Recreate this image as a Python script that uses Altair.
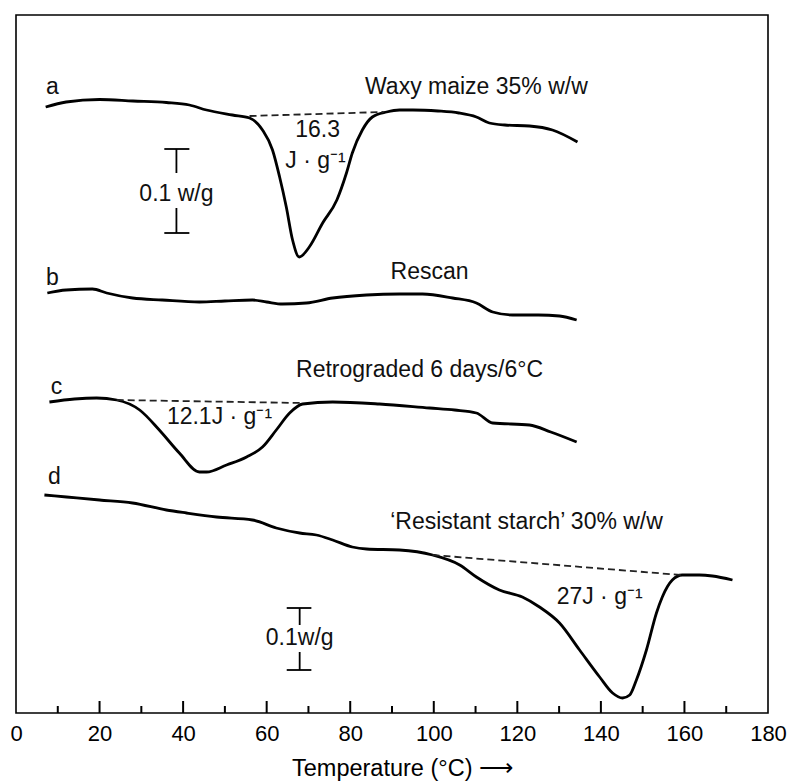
import altair as alt
import pandas as pd

# ---- curve readings (temperature in °C, signal in arbitrary heat-flow units, offset per trace)
temp_a = [7.1, 12, 20, 28, 36, 41.5, 45.6, 51.8, 55.9, 59, 61.4, 63.1, 64.7, 66.2, 67.8, 70.2, 73.4,
          76.8, 79.1, 80.5, 82.9, 85.3, 88.7, 91.8, 95, 101, 106, 110.2, 113.3, 117, 122.9, 128.4, 134.4]
sig_a = [606, 611, 613.5, 612, 610.5, 608, 603, 598, 595, 583, 563, 536, 506, 473, 456, 466, 490,
         513, 540, 560, 583, 596, 601, 603, 603, 602, 600, 596, 590, 588, 587, 583, 571]

temp_b = [7.5, 12, 18.3, 21.7, 27.9, 35, 43.9, 50, 56.6, 60, 63.8, 69.5, 75.8, 83.9, 91.8, 97.3, 104.5,
          110.2, 114.1, 118.9, 125, 130.1, 134.2]
sig_b = [420, 423, 424, 420, 415, 413, 411, 412, 413, 411, 409, 410, 415, 418, 419, 419, 415,
         410, 401, 398, 398, 397, 393]

temp_c = [8, 14, 19.3, 24.1, 29.6, 34.3, 39.1, 43.9, 45.6, 50.4, 55.2, 59, 62.3, 65.5, 68.6, 75.8, 87,
          99, 105, 110.2, 114.1, 122.9, 128, 134.2]
sig_c = [311, 314, 315, 313, 303, 283, 260, 241, 241, 248, 256, 266, 283, 300, 309, 311, 309,
         305, 303, 300, 290, 288, 281, 271]

temp_d = [6.8, 12.1, 20, 27.9, 36, 40.8, 48, 56.6, 62.3, 67.9, 71.9, 75.8, 80.5, 83.9, 91.8, 99.7, 106.2,
          110.2, 115.7, 121.2, 125.3, 130.1, 134.9, 139.7, 142.8, 145.2, 146.9, 148.5, 150.9, 153.3, 154.7,
          157.1, 159.5, 163.6, 166.7, 171.5]
sig_d = [218, 216, 213, 210, 203, 200, 196, 193, 185, 180, 178, 173, 166, 164, 163, 158, 148,
         136, 123, 116, 106, 90, 63, 36, 20, 15, 18, 33, 63, 100, 116,
         133, 138, 138, 137, 133]

# ---- dashed baselines (start, end)
base_names = ["a", "a", "c", "c", "d", "d"]
base_temp = [55.9, 88, 24.1, 68.6, 99.7, 159.2]
base_sig = [597, 601, 313, 310, 158, 138]

# ---- scale bars (0.1 W/g)
bar_x = [38.4, 67.9]
bar_cap_left = [35.5, 64.8]
bar_cap_right = [41.5, 70.7]
bar_top = [564, 105]
bar_gap_top = [540, 88]
bar_gap_bottom = [505, 61]
bar_bottom = [480, 43]

# ---- annotations
ann_text = ["a", "b", "c", "d", "Waxy maize 35% w/w", "16.3", "J · g⁻¹", "0.1 w/g", "Rescan",
            "Retrograded 6 days/6°C", "12.1J · g⁻¹", "‘Resistant starch’ 30% w/w", "27J · g⁻¹", "0.1w/g"]
ann_temp = [8.7, 8.7, 9.7, 9.2, 110.2, 72.2, 71.7, 38.4, 99.0, 96.6, 48.7, 122.2, 139.7, 67.9]
ann_sig = [626, 435, 326, 236, 626, 583, 552, 519, 441, 343, 296, 191, 116, 75]

major_ticks = [20, 40, 60, 80, 100, 120, 140, 160]
minor_ticks = [10, 30, 50, 70, 90, 110, 130, 150, 170]
tick_labels = [0, 20, 40, 60, 80, 100, 120, 140, 160, 180]

FONT = "Liberation Sans"
W, H = 752, 698

curves = pd.concat([
    pd.DataFrame({"T": temp_a, "S": sig_a, "trace": "a"}),
    pd.DataFrame({"T": temp_b, "S": sig_b, "trace": "b"}),
    pd.DataFrame({"T": temp_c, "S": sig_c, "trace": "c"}),
    pd.DataFrame({"T": temp_d, "S": sig_d, "trace": "d"}),
], ignore_index=True)
curves["order"] = range(len(curves))

baselines = pd.DataFrame({"T": base_temp, "S": base_sig, "trace": base_names})
bars = pd.DataFrame({"x": bar_x, "xl": bar_cap_left, "xr": bar_cap_right, "top": bar_top,
                     "gt": bar_gap_top, "gb": bar_gap_bottom, "bottom": bar_bottom})
ann = pd.DataFrame({"T": ann_temp, "S": ann_sig, "text": ann_text})
majors = pd.DataFrame({"T": major_ticks})
minors = pd.DataFrame({"T": minor_ticks})

xscale = alt.Scale(domain=[0, 180], nice=False, zero=False)
yscale = alt.Scale(domain=[0, H], nice=False, zero=False)

xaxis = alt.Axis(values=tick_labels, tickSize=0, domain=False, grid=False, labelFontSize=22,
                 labelFont=FONT, labelColor="black", labelPadding=10, labelFlush=False,
                 title="Temperature (°C)  ⟶", titleFont=FONT, titleFontSize=23.5,
                 titleFontWeight="normal", titleColor="black", titlePadding=12,
                 titleX=386, titleAlign="center")

lines = alt.Chart(curves).mark_line(color="black", strokeWidth=2.8, interpolate="monotone").encode(
    x=alt.X("T:Q", scale=xscale, axis=xaxis),
    y=alt.Y("S:Q", scale=yscale, axis=None),
    detail="trace:N",
    order="order:Q",
)

dashed = alt.Chart(baselines).mark_line(color="#222222", strokeWidth=1.8, strokeDash=[7, 4]).encode(
    x=alt.X("T:Q", scale=xscale), y=alt.Y("S:Q", scale=yscale), detail="trace:N"
)

bar_style = dict(color="black", strokeWidth=1.8)
cap_top = alt.Chart(bars).mark_rule(**bar_style).encode(
    x=alt.X("xl:Q", scale=xscale), x2="xr:Q", y=alt.Y("top:Q", scale=yscale))
cap_bot = alt.Chart(bars).mark_rule(**bar_style).encode(
    x=alt.X("xl:Q", scale=xscale), x2="xr:Q", y=alt.Y("bottom:Q", scale=yscale))
stem_top = alt.Chart(bars).mark_rule(**bar_style).encode(
    x=alt.X("x:Q", scale=xscale), y=alt.Y("top:Q", scale=yscale), y2="gt:Q")
stem_bot = alt.Chart(bars).mark_rule(**bar_style).encode(
    x=alt.X("x:Q", scale=xscale), y=alt.Y("gb:Q", scale=yscale), y2="bottom:Q")

texts = alt.Chart(ann).mark_text(font=FONT, fontSize=23, color="#111111", align="center",
                                 baseline="middle").encode(
    x=alt.X("T:Q", scale=xscale), y=alt.Y("S:Q", scale=yscale), text="text:N")

major_rules = alt.Chart(majors).mark_rule(color="black", strokeWidth=2).encode(
    x=alt.X("T:Q", scale=xscale), y=alt.value(H), y2=alt.value(H - 12))
minor_rules = alt.Chart(minors).mark_rule(color="black", strokeWidth=2).encode(
    x=alt.X("T:Q", scale=xscale), y=alt.value(H), y2=alt.value(H - 7))

chart = alt.layer(lines, dashed, cap_top, cap_bot, stem_top, stem_bot, texts,
                  major_rules, minor_rules).properties(
    width=W, height=H,
    autosize=alt.AutoSizeParams(type="none"),
    padding={"left": 16, "top": 15, "right": 25, "bottom": 68},
    background="white",
).configure_view(stroke="black", strokeWidth=1.6)

chart.save("out.html", embed_options={"renderer": "svg", "actions": False})
